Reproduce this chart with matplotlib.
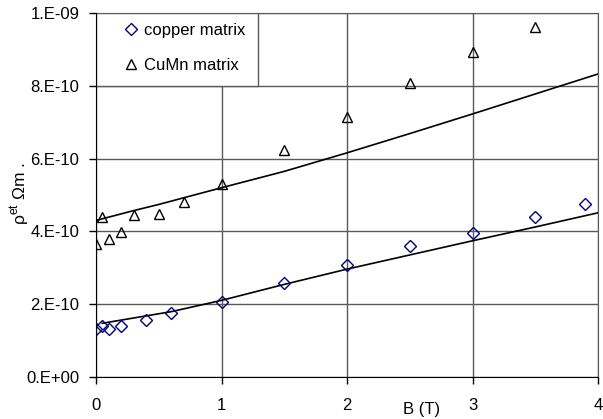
import matplotlib
matplotlib.use("Agg")
import matplotlib.pyplot as plt
from matplotlib.patches import Rectangle

plt.rcParams['font.family'] = ['Liberation Sans', 'DejaVu Sans']

# measured points, copper matrix
b_cu = [0.0, 0.05, 0.1, 0.2, 0.4, 0.6, 1.0, 1.5, 2.0, 2.5, 3.0, 3.5, 3.9]
rho_cu = [1.30e-10, 1.40e-10, 1.30e-10, 1.39e-10, 1.56e-10, 1.74e-10, 2.06e-10,
          2.59e-10, 3.07e-10, 3.60e-10, 3.95e-10, 4.40e-10, 4.75e-10]

# measured points, CuMn matrix
b_cumn = [0.0, 0.05, 0.1, 0.2, 0.3, 0.5, 0.7, 1.0, 1.5, 2.0, 2.5, 3.0, 3.5]
rho_cumn = [3.64e-10, 4.40e-10, 3.78e-10, 3.97e-10, 4.46e-10, 4.49e-10, 4.80e-10,
            5.29e-10, 6.24e-10, 7.15e-10, 8.07e-10, 8.93e-10, 9.61e-10]

# fitted curves
fit_b_cu = [0.05, 0.6, 1.0, 1.5, 2.0, 2.5, 3.0, 3.5, 4.0]
fit_rho_cu = [1.47e-10, 1.79e-10, 2.10e-10, 2.54e-10, 2.96e-10, 3.35e-10,
              3.74e-10, 4.12e-10, 4.51e-10]
fit_b_cumn = [0.0, 0.3, 0.5, 1.0, 1.5, 2.0, 2.5, 3.0, 3.5, 4.0]
fit_rho_cumn = [4.30e-10, 4.57e-10, 4.74e-10, 5.20e-10, 5.65e-10, 6.16e-10,
                6.69e-10, 7.23e-10, 7.78e-10, 8.33e-10]

x_ticks = [0, 1, 2, 3, 4]
y_ticks = [0.0, 2e-10, 4e-10, 6e-10, 8e-10, 1e-9]
y_tick_labels = ['0.E+00', '2.E-10', '4.E-10', '6.E-10', '8.E-10', '1.E-09']

W, H = 603, 419
fig = plt.figure(figsize=(W / 100, H / 100), dpi=100)
ax = fig.add_axes([96 / W, 1 - 376.7 / H, 502 / W, 363.4 / H])

grid_col = '#5a5a5a'
for x in x_ticks:
    ax.axvline(x, color=grid_col, lw=1.0, zorder=1)
for y in y_ticks:
    ax.axhline(y, color=grid_col, lw=1.0, zorder=1)

ax.plot(fit_b_cu, fit_rho_cu, color='black', lw=1.2, zorder=2)
ax.plot(fit_b_cumn, fit_rho_cumn, color='black', lw=1.2, zorder=2)

ax.plot(b_cu, rho_cu, ls='none', marker='D', ms=6.6, mfc='none', mec='#000080',
        mew=1.0, label='copper matrix', zorder=4)
ax.plot(b_cumn, rho_cumn, ls='none', marker='^', ms=7.6, mfc='none', mec='black',
        mew=1.0, label='CuMn matrix', zorder=4)

ax.set_xlim(0, 4)
ax.set_ylim(0, 1e-9)
ax.set_xticks(x_ticks)
ax.set_yticks(y_ticks)
ax.set_yticklabels(y_tick_labels)
ax.tick_params(direction='out', length=5, width=1, color='black', labelsize=12)
ax.tick_params(axis='x', pad=10)
ax.tick_params(axis='y', pad=7)

for side in ['left', 'bottom']:
    ax.spines[side].set_color('black')
    ax.spines[side].set_zorder(5)
for side in ['top', 'right']:
    ax.spines[side].set_color(grid_col)

ax.set_xlabel('B (T)', fontsize=12)
ax.xaxis.set_label_coords(0.649, -0.09)
ax.xaxis.label.set_va('center')
ax.set_ylabel('ρ$^{\\mathregular{et}}$ Ωm .', fontsize=12.5)
ax.yaxis.set_label_coords(-0.151, 0.505)
ax.yaxis.label.set_va('center')

# legend box
ax.add_patch(Rectangle((0, 0.8), 0.323, 0.2, transform=ax.transAxes,
                       facecolor='white', edgecolor=grid_col, lw=1.0, zorder=3))
ax.legend(loc='upper left', bbox_to_anchor=(0.053, 0.973), frameon=False,
          borderaxespad=0, borderpad=0, handlelength=1.0, handletextpad=0.3,
          labelspacing=1.2, fontsize=12).set_zorder(6)

fig.savefig('out.png', dpi=100)
